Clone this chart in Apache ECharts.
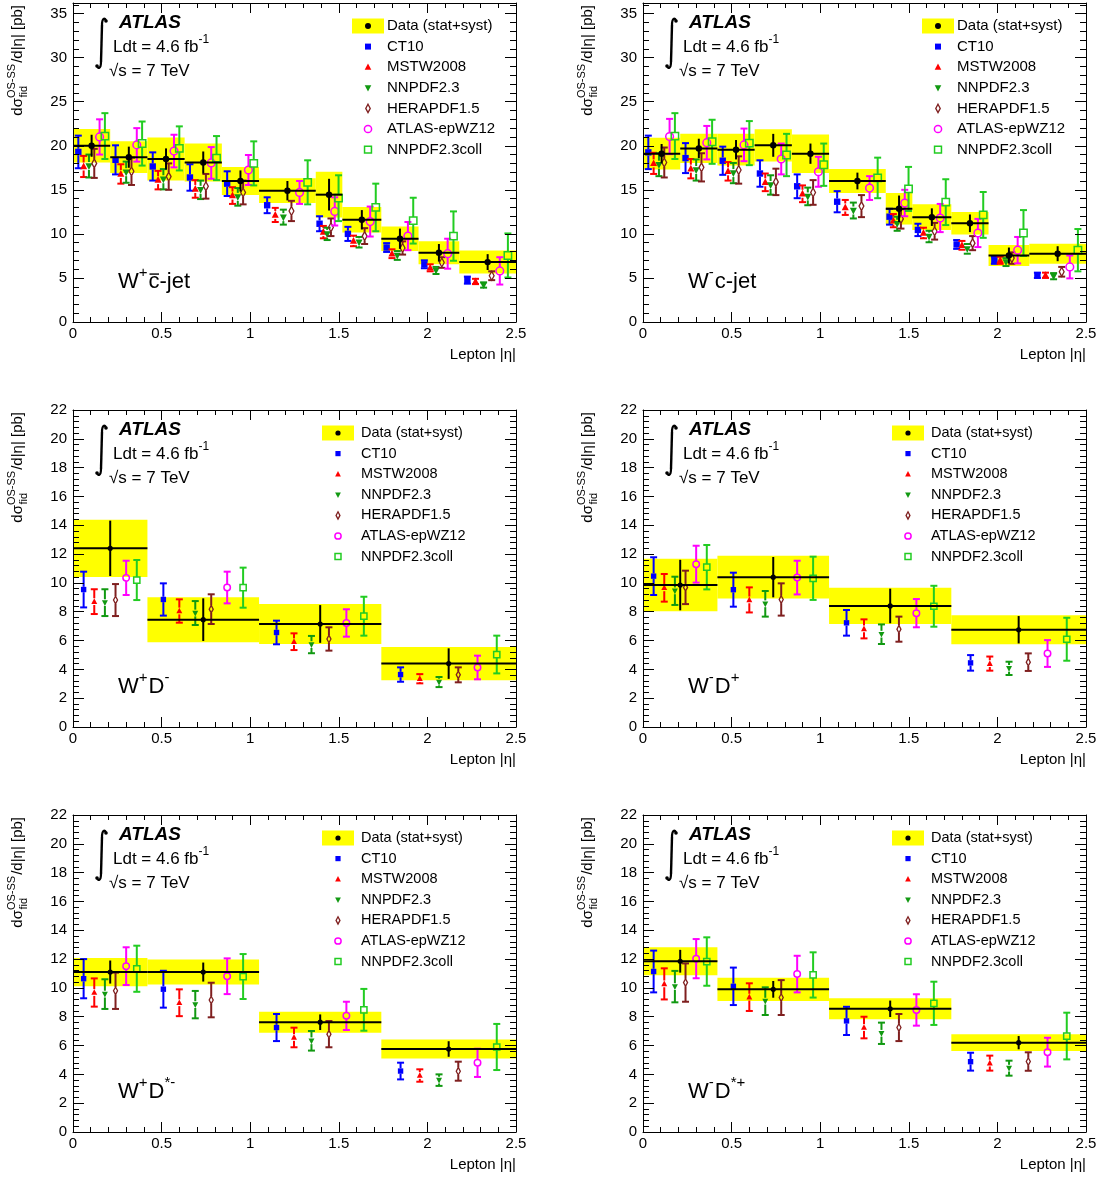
<!DOCTYPE html>
<html><head><meta charset="utf-8">
<script src="https://cdn.jsdelivr.net/npm/echarts/dist/echarts.min.js"></script>
<style>html,body{margin:0;padding:0;background:#fff}#c{width:1105px;height:1178px}</style>
</head><body><div id="c"></div>
<script>
// ---------------- data ----------------
const etaBinsCJet = [0, 0.21, 0.42, 0.63, 0.84, 1.05, 1.37, 1.52, 1.74, 1.95, 2.18, 2.5];
const etaBinsD = [0, 0.42, 1.05, 1.74, 2.5];
const pdfNames = ['CT10', 'MSTW2008', 'NNPDF2.3', 'HERAPDF1.5', 'ATLAS-epWZ12', 'NNPDF2.3coll'];
const dataName = 'Data (stat+syst)';
const xAxisTitle = 'Lepton |\u03b7|';

// W+ cbar-jet
const wpcData  = [20.0, 18.7, 18.5, 18.1, 16.0, 14.9, 14.45, 11.6, 9.45, 7.85, 6.8];
const wpcStat  = [1.25, 1.2, 1.2, 1.25, 1.2, 1.1, 1.8, 1.1, 1.15, 1.0, 0.9];
const wpcTotal = [1.9, 1.8, 2.45, 2.15, 1.6, 1.4, 2.6, 1.45, 1.4, 1.3, 1.3];
const wpcPred = [
  [19.3, 18.4, 17.65, 16.4, 15.7, 13.25, 11.15, 10.0, 8.45, 6.55, 4.75],
  [17.65, 16.8, 16.1, 15.1, 14.35, 12.15, 10.2, 9.2, 7.75, 6.15, 4.6],
  [17.7, 17.0, 16.2, 15.0, 14.2, 11.9, 10.0, 9.05, 7.55, 5.85, 4.2],
  [18.0, 17.1, 16.5, 15.4, 14.7, 12.6, 10.75, 9.75, 8.4, 6.75, 5.25],
  [21.0, 20.1, 19.4, 18.05, 17.25, 14.7, 12.55, 11.4, 9.75, 7.75, 5.8],
  [21.1, 20.25, 19.7, 18.6, 18.0, 15.85, 14.05, 13.0, 11.5, 9.75, 7.55]
];
const wpcPredErr = [
  [1.85, 1.65, 1.6, 1.5, 1.4, 0.9, 0.85, 0.8, 0.5, 0.45, 0.4],
  [1.2, 1.1, 1.05, 1.0, 0.95, 0.8, 0.7, 0.6, 0.5, 0.4, 0.3],
  [1.3, 1.2, 1.15, 1.05, 1.0, 0.85, 0.7, 0.6, 0.5, 0.4, 0.3],
  [1.65, 1.55, 1.5, 1.4, 1.35, 1.15, 1.0, 0.9, 0.75, 0.6, 0.5],
  [2.0, 1.9, 1.85, 1.8, 1.7, 1.3, 1.6, 1.7, 1.6, 1.7, 1.55],
  [2.6, 2.5, 2.5, 2.5, 2.5, 2.5, 2.6, 2.7, 2.6, 2.8, 2.5]
];

// W- c-jet
const wmcData  = [19.1, 19.7, 19.55, 20.05, 19.1, 16.0, 12.85, 11.9, 11.2, 7.55, 7.75];
const wmcStat  = [1.1, 1.1, 1.1, 1.3, 1.15, 0.95, 1.5, 1.0, 1.0, 0.9, 0.85];
const wmcTotal = [1.8, 1.66, 1.8, 1.83, 2.18, 1.37, 1.79, 1.47, 1.28, 1.19, 1.13];
const wmcPred = [
  [19.25, 18.6, 18.3, 16.85, 15.4, 13.65, 11.95, 10.45, 8.8, 7.0, 5.3],
  [18.0, 17.4, 17.1, 15.85, 14.55, 13.0, 11.5, 10.1, 8.7, 7.0, 5.3],
  [17.85, 17.25, 16.9, 15.55, 14.25, 12.65, 11.15, 9.7, 8.3, 6.8, 5.2],
  [18.1, 17.55, 17.25, 15.9, 14.7, 13.15, 11.7, 10.3, 8.95, 7.25, 5.7],
  [21.05, 20.35, 20.1, 18.5, 17.05, 15.2, 13.5, 11.8, 10.1, 8.15, 6.25],
  [21.1, 20.45, 20.3, 18.95, 17.85, 16.35, 15.1, 13.6, 12.15, 10.1, 8.15]
];
const wmcPredErr = [
  [1.9, 1.7, 1.6, 1.5, 1.35, 1.2, 0.9, 0.7, 0.5, 0.4, 0.3],
  [1.2, 1.1, 1.05, 1.0, 0.95, 0.85, 0.75, 0.6, 0.5, 0.4, 0.3],
  [1.3, 1.2, 1.15, 1.1, 1.0, 0.9, 0.8, 0.65, 0.55, 0.45, 0.35],
  [1.7, 1.6, 1.55, 1.5, 1.4, 1.25, 1.1, 0.95, 0.8, 0.65, 0.55],
  [2.0, 1.9, 1.85, 1.75, 1.7, 1.35, 1.5, 1.6, 1.6, 1.5, 1.3],
  [2.6, 2.5, 2.5, 2.4, 2.4, 2.3, 2.5, 2.6, 2.6, 2.6, 2.4]
];

// W+ D-
const wpdData  = [12.4, 7.45, 7.15, 4.4];
const wpdStat  = [1.92, 1.48, 1.31, 1.06];
const wpdTotal = [1.99, 1.56, 1.39, 1.16];
const wpdPred = [
  [9.54, 8.85, 6.56, 3.64],
  [8.7, 8.05, 5.92, 3.35],
  [8.63, 7.91, 5.72, 3.12],
  [8.81, 8.18, 6.11, 3.62],
  [10.35, 9.68, 7.22, 4.13],
  [10.2, 9.67, 7.69, 5.03]
];
const wpdPredErr = [
  [1.24, 1.12, 0.82, 0.5],
  [0.86, 0.81, 0.58, 0.32],
  [0.93, 0.83, 0.6, 0.35],
  [1.11, 1.03, 0.81, 0.52],
  [1.19, 1.1, 0.95, 0.82],
  [1.39, 1.39, 1.35, 1.31]
];

// W- D+
const wmdData  = [9.85, 10.4, 8.4, 6.75];
const wmdStat  = [1.75, 1.4, 1.2, 0.95];
const wmdTotal = [1.82, 1.48, 1.26, 1.0];
const wmdPred = [
  [10.47, 9.53, 7.23, 4.45],
  [9.66, 8.82, 6.81, 4.4],
  [9.45, 8.55, 6.44, 4.07],
  [9.69, 8.85, 6.79, 4.5],
  [11.3, 10.37, 7.9, 5.1],
  [11.09, 10.32, 8.38, 6.09]
];
const wmdPredErr = [
  [1.31, 1.18, 0.89, 0.54],
  [0.96, 0.87, 0.66, 0.49],
  [0.98, 0.89, 0.68, 0.46],
  [1.16, 1.12, 0.87, 0.61],
  [1.28, 1.17, 0.98, 0.93],
  [1.54, 1.5, 1.42, 1.49]
];

// W+ D*-
const wpdsData  = [11.1, 11.1, 7.62, 5.76];
const wpdsStat  = [0.8, 0.66, 0.54, 0.54];
const wpdsTotal = [0.98, 0.87, 0.73, 0.66];
const wpdsPred = [
  [10.64, 9.91, 7.25, 4.23],
  [9.68, 8.97, 6.56, 3.92],
  [9.57, 8.84, 6.33, 3.6],
  [9.8, 9.16, 6.79, 4.22],
  [11.51, 10.81, 8.06, 4.8],
  [11.33, 10.79, 8.48, 5.9]
];
const wpdsPredErr = [
  [1.36, 1.28, 0.94, 0.58],
  [0.98, 0.93, 0.68, 0.43],
  [1.03, 0.95, 0.68, 0.4],
  [1.26, 1.2, 0.91, 0.66],
  [1.31, 1.24, 0.98, 0.98],
  [1.6, 1.56, 1.45, 1.6]
];

// W- D*+
const wmdsData  = [11.85, 9.9, 8.55, 6.2];
const wmdsStat  = [0.79, 0.58, 0.57, 0.46];
const wmdsTotal = [0.98, 0.81, 0.73, 0.58];
const wmdsPred = [
  [11.14, 10.11, 7.71, 4.88],
  [10.28, 9.36, 7.25, 4.78],
  [10.09, 9.08, 6.85, 4.43],
  [10.37, 9.33, 7.25, 4.89],
  [12.03, 10.96, 8.47, 5.54],
  [11.83, 10.9, 8.93, 6.66]
];
const wmdsPredErr = [
  [1.45, 1.3, 0.98, 0.62],
  [1.08, 0.96, 0.75, 0.52],
  [1.09, 0.96, 0.74, 0.52],
  [1.33, 1.21, 0.94, 0.64],
  [1.36, 1.27, 1.09, 1.0],
  [1.68, 1.57, 1.5, 1.62]
];

// y axis ranges per row (max, major tick step, minor tick step)
const yRangeCJet = [36.2, 5, 1];
const yRangeD = [22, 2, 0.4];

// ---------------- layout / style ----------------
const FONT = 'Liberation Sans';
const colLeft = [73, 643];
const plotW = 443;
const rowTop = [3, 410, 815];
const rowBottom = [322, 727, 1132];
const pdfColors = ['#0000ff', '#ff0000', '#119911', '#7f1f1f', '#ff00ff', '#22cc22'];
const yellow = '#ffff00';

const panels = [
  {col:0, row:0, range:yRangeCJet, bins:etaBinsCJet, data:wpcData, stat:wpcStat, tot:wpcTotal, pred:wpcPred, err:wpcPredErr,
   label:[{t:'W'},{t:'+',sup:1},{t:'c',over:1},{t:'-jet'}]},
  {col:1, row:0, range:yRangeCJet, bins:etaBinsCJet, data:wmcData, stat:wmcStat, tot:wmcTotal, pred:wmcPred, err:wmcPredErr,
   label:[{t:'W'},{t:'-',sup:1},{t:'c-jet'}]},
  {col:0, row:1, range:yRangeD, bins:etaBinsD, data:wpdData, stat:wpdStat, tot:wpdTotal, pred:wpdPred, err:wpdPredErr,
   label:[{t:'W'},{t:'+',sup:1},{t:'D'},{t:'-',sup:1}]},
  {col:1, row:1, range:yRangeD, bins:etaBinsD, data:wmdData, stat:wmdStat, tot:wmdTotal, pred:wmdPred, err:wmdPredErr,
   label:[{t:'W'},{t:'-',sup:1},{t:'D'},{t:'+',sup:1}]},
  {col:0, row:2, range:yRangeD, bins:etaBinsD, data:wpdsData, stat:wpdsStat, tot:wpdsTotal, pred:wpdsPred, err:wpdsPredErr,
   label:[{t:'W'},{t:'+',sup:1},{t:'D'},{t:'*-',sup:1}]},
  {col:1, row:2, range:yRangeD, bins:etaBinsD, data:wmdsData, stat:wmdsStat, tot:wmdsTotal, pred:wmdsPred, err:wmdsPredErr,
   label:[{t:'W'},{t:'-',sup:1},{t:'D'},{t:'*+',sup:1}]}
];

const mctx = document.createElement('canvas').getContext('2d');
function tw(t, size, weight, fstyle) {
  mctx.font = (fstyle || 'normal') + ' ' + (weight || 'normal') + ' ' + size + 'px "' + FONT + '"';
  return mctx.measureText(t).width;
}
function txt(x, y, t, size, o) {
  o = o || {};
  const al = o.align || 'left';
  return {type:'text', x:x, y:y, silent:true, z:100,
    style:{text:t, fontSize:size, fontFamily:FONT, fontWeight:o.weight || 'normal', fontStyle:o.style || 'normal',
      fill:'#000', align:al, textAlign:al, verticalAlign:'middle', textVerticalAlign:'middle'}};
}
function textRun(x, y, parts, size, weight, fstyle) {
  const els = []; let cx = x;
  parts.forEach(p => {
    const sz = p.sup ? Math.round(size * 0.68) : size;
    const dy = p.sup ? -size * 0.42 : 0;
    const w = tw(p.t, sz, weight, fstyle);
    els.push(txt(cx, y + dy, p.t, sz, {weight:weight, style:fstyle}));
    if (p.over) els.push({type:'line', silent:true, z:100,
      shape:{x1:cx + 1, y1:y - size * 0.36, x2:cx + w - 0.5, y2:y - size * 0.36}, style:{stroke:'#000', lineWidth:1.4}});
    cx += w + (p.sup ? 1 : 0);
  });
  return els;
}

function markerEl(k, cx, cy, s) {
  const c = pdfColors[k];
  switch (k) {
    case 0: return {type:'rect', shape:{x:cx - s, y:cy - s, width:2 * s, height:2 * s}, style:{fill:c}};
    case 1: return {type:'polygon', shape:{points:[[cx, cy - 1.25 * s], [cx + 1.1 * s, cy + 0.85 * s], [cx - 1.1 * s, cy + 0.85 * s]]}, style:{fill:c}};
    case 2: return {type:'polygon', shape:{points:[[cx, cy + 1.25 * s], [cx + 1.1 * s, cy - 0.85 * s], [cx - 1.1 * s, cy - 0.85 * s]]}, style:{fill:c}};
    case 3: return {type:'polygon', shape:{points:[[cx, cy - 1.4 * s], [cx + 0.75 * s, cy], [cx, cy + 1.4 * s], [cx - 0.75 * s, cy]]}, style:{fill:'none', stroke:c, lineWidth:1.3}};
    case 4: return {type:'circle', shape:{cx:cx, cy:cy, r:1.2 * s}, style:{fill:'none', stroke:c, lineWidth:1.5}};
    default: return {type:'rect', shape:{x:cx - 1.15 * s, y:cy - 1.15 * s, width:2.3 * s, height:2.3 * s}, style:{fill:'none', stroke:c, lineWidth:1.5}};
  }
}
const markerHalf = [1, 1.25, 1.25, 1.4, 1.2, 1.15];

// ---------------- build option ----------------
const grids = [], xAxes = [], yAxes = [], series = [], gfx = [];
const axisCommon = {splitLine:{show:false}, z:10};

panels.forEach((p, gi) => {
  const fx = colLeft[p.col], ft = rowTop[p.row], fb = rowBottom[p.row];
  const ms = p.row === 0 ? 3.2 : 2.7;
  grids.push({left:fx, top:ft, width:plotW, height:fb - ft});

  const xi = xAxes.length;
  const xBase = Object.assign({}, axisCommon, {gridIndex:gi, type:'value', min:0, max:2.5, interval:0.5,
    axisLine:{show:true, onZero:false, lineStyle:{color:'#000', width:1}},
    axisTick:{show:true, inside:true, length:10, lineStyle:{color:'#000', width:1}},
    minorTick:{show:true, splitNumber:5, length:5, lineStyle:{color:'#000', width:1}}});
  xAxes.push(Object.assign({}, xBase, {position:'bottom',
    axisLabel:{show:true, fontSize:15, fontFamily:FONT, color:'#000', margin:4}}));
  xAxes.push(Object.assign({}, xBase, {position:'top', axisLabel:{show:false}}));

  const yi = yAxes.length;
  const ymax = p.range[0], major = p.range[1], minor = p.range[2];
  const yBase = Object.assign({}, axisCommon, {gridIndex:gi, type:'value', min:0, max:ymax});
  ['left', 'right'].forEach(pos => {
    yAxes.push(Object.assign({}, yBase, {position:pos, interval:major,
      axisLine:{show:true, onZero:false, lineStyle:{color:'#000', width:1}},
      axisTick:{show:true, inside:true, length:11, lineStyle:{color:'#000', width:1}},
      axisLabel:{show:pos === 'left', fontSize:15, fontFamily:FONT, color:'#000', margin:6,
        formatter: v => (Math.abs(v / major - Math.round(v / major)) < 1e-6 ? String(Math.round(v)) : '')}}));
    yAxes.push(Object.assign({}, yBase, {position:pos, interval:minor,
      axisLine:{show:false, onZero:false},
      axisTick:{show:true, inside:true, length:6, lineStyle:{color:'#000', width:1}},
      axisLabel:{show:false}}));
  });

  const rows = (vals, errs) => p.data.map((_, i) => [p.bins[i], p.bins[i + 1], vals[i], errs[i]]);

  // yellow total-uncertainty boxes
  series.push({type:'custom', name:dataName, xAxisIndex:xi, yAxisIndex:yi, z:1, silent:true,
    data:rows(p.data, p.tot), encode:{x:[0, 1], y:[2]},
    renderItem:(params, api) => {
      const a = api.coord([api.value(0), api.value(2) + api.value(3)]);
      const b = api.coord([api.value(1), api.value(2) - api.value(3)]);
      return {type:'rect', shape:{x:a[0], y:a[1], width:b[0] - a[0], height:b[1] - a[1]}, style:{fill:yellow}};
    }});

  // predictions
  p.pred.forEach((vals, k) => {
    series.push({type:'custom', name:pdfNames[k], xAxisIndex:xi, yAxisIndex:yi, z:2, silent:true,
      data:rows(vals, p.err[k]), encode:{x:[0, 1], y:[2]},
      renderItem:(params, api) => {
        const lo = api.value(0), hi = api.value(1), v = api.value(2), e = api.value(3);
        const x = lo + (k + 1) * (hi - lo) / 7;
        const c = api.coord([x, v]), t = api.coord([x, v + e]), b = api.coord([x, v - e]);
        const col = pdfColors[k], gap = ms * markerHalf[k], cw = 3.5;
        const ls = {stroke:col, lineWidth:2};
        const ch = [
          {type:'line', shape:{x1:c[0] - cw, y1:t[1], x2:c[0] + cw, y2:t[1]}, style:ls},
          {type:'line', shape:{x1:c[0] - cw, y1:b[1], x2:c[0] + cw, y2:b[1]}, style:ls}
        ];
        if (t[1] < c[1] - gap) ch.push({type:'line', shape:{x1:c[0], y1:t[1], x2:c[0], y2:c[1] - gap}, style:ls});
        if (b[1] > c[1] + gap) ch.push({type:'line', shape:{x1:c[0], y1:c[1] + gap, x2:c[0], y2:b[1]}, style:ls});
        ch.push(markerEl(k, c[0], c[1], ms));
        return {type:'group', children:ch};
      }});
  });

  // data points: bin width line, stat error bar, marker
  series.push({type:'custom', name:dataName + ' points', xAxisIndex:xi, yAxisIndex:yi, z:3, silent:true,
    data:rows(p.data, p.stat), encode:{x:[0, 1], y:[2]},
    renderItem:(params, api) => {
      const lo = api.value(0), hi = api.value(1), v = api.value(2), e = api.value(3), m = (lo + hi) / 2;
      const l = api.coord([lo, v]), r = api.coord([hi, v]), t = api.coord([m, v + e]), b = api.coord([m, v - e]), c = api.coord([m, v]);
      const ls = {stroke:'#000', lineWidth:2};
      return {type:'group', children:[
        {type:'line', shape:{x1:l[0], y1:l[1], x2:r[0], y2:r[1]}, style:ls},
        {type:'line', shape:{x1:t[0], y1:t[1], x2:b[0], y2:b[1]}, style:ls},
        {type:'circle', shape:{cx:c[0], cy:c[1], r:p.row === 0 ? 3.2 : 2.6}, style:{fill:'#000'}}
      ]};
    }});

  // ---- annotations ----
  // integral sign
  const ix = fx + 27, ty = ft + 16, by = ft + 65;
  const ist = {stroke:'#000', lineWidth:2.2, fill:'none'};
  gfx.push({type:'bezierCurve', silent:true, z:100, shape:{x1:ix + 6, y1:ty + 2, cpx1:ix + 5, cpy1:ty - 2, cpx2:ix + 2, cpy2:ty - 1, x2:ix + 2, y2:ty + 6}, style:ist});
  gfx.push({type:'line', silent:true, z:100, shape:{x1:ix + 2, y1:ty + 6, x2:ix + 1, y2:by - 6}, style:{stroke:'#000', lineWidth:2.4}});
  gfx.push({type:'bezierCurve', silent:true, z:100, shape:{x1:ix + 1, y1:by - 6, cpx1:ix + 1, cpy1:by + 1, cpx2:ix - 2, cpy2:by + 1, x2:ix - 3, y2:by - 2}, style:ist});
  gfx.push({type:'circle', silent:true, z:100, shape:{cx:ix + 6, cy:ty + 2, r:1.8}, style:{fill:'#000'}});
  gfx.push({type:'circle', silent:true, z:100, shape:{cx:ix - 3, cy:by - 2, r:1.8}, style:{fill:'#000'}});
  gfx.push(txt(fx + 46, ft + 20, 'ATLAS', 19, {weight:'bold', style:'italic'}));
  textRun(fx + 40, ft + 44, [{t:'Ldt = 4.6 fb'}, {t:'-1', sup:1}], 17).forEach(e => gfx.push(e));
  gfx.push(txt(fx + 36, ft + 68, '\u221As = 7 TeV', 17));

  // panel label
  textRun(fx + 45, fb - 40, p.label, 22).forEach(e => gfx.push(e));

  // x-axis title
  gfx.push(txt(fx + plotW, fb + 33, xAxisTitle, 15, {align:'right'}));

  // y-axis title (rotated)
  {
    const s = 15, ss = 11;
    const p1 = 'd\u03c3', sup = 'OS-SS', sub = 'fid', p2 = '/d|\u03b7| [pb]';
    const w1 = tw(p1, s), wmid = Math.max(tw(sup, ss), tw(sub, ss)), w2 = tw(p2, s);
    const L = w1 + wmid + w2 + 1;
    gfx.push({type:'group', x:fx - 55, y:ft + 2 + L, rotation:Math.PI / 2, silent:true, children:[
      txt(0, 0, p1, s), txt(w1, -6, sup, ss), txt(w1 + 0.5, 6, sub, ss), txt(w1 + wmid + 1, 0, p2, s)
    ]});
  }

  // legend
  const mx = fx + (p.row === 0 ? 295 : 265), tx = fx + (p.row === 0 ? 314 : 288);
  const ly0 = ft + 23, ldy = 20.6, lms = p.row === 0 ? 3.0 : 2.6, lfs = p.row === 0 ? 15 : 14.5;
  gfx.push({type:'rect', silent:true, z:100, shape:{x:mx - 16, y:ly0 - 7.5, width:32, height:15}, style:{fill:yellow}});
  gfx.push({type:'circle', silent:true, z:101, shape:{cx:mx, cy:ly0, r:lms}, style:{fill:'#000'}});
  gfx.push(txt(tx, ly0, dataName, lfs));
  pdfNames.forEach((n, k) => {
    const yy = ly0 + (k + 1) * ldy;
    const el = markerEl(k, mx, yy, lms);
    el.silent = true; el.z = 100;
    gfx.push(el);
    gfx.push(txt(tx, yy, n, lfs));
  });
});

const chart = echarts.init(document.getElementById('c'), null, {renderer:'canvas', width:1105, height:1178});
chart.setOption({
  animation:false,
  backgroundColor:'#ffffff',
  grid:grids, xAxis:xAxes, yAxis:yAxes, series:series,
  graphic:{elements:gfx}
});
</script></body></html>
